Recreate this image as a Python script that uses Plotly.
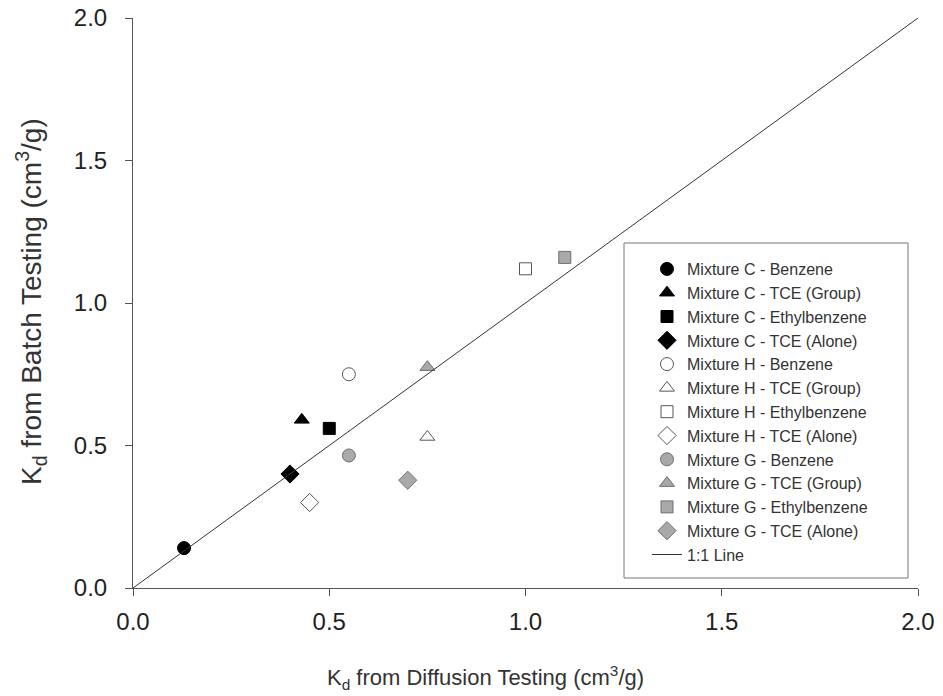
import plotly.graph_objects as go

names = ["Mixture C - Benzene", "Mixture C - TCE (Group)", "Mixture C - Ethylbenzene", "Mixture C - TCE (Alone)",
         "Mixture H - Benzene", "Mixture H - TCE (Group)", "Mixture H - Ethylbenzene", "Mixture H - TCE (Alone)",
         "Mixture G - Benzene", "Mixture G - TCE (Group)", "Mixture G - Ethylbenzene", "Mixture G - TCE (Alone)"]
kd_diffusion = [0.13, 0.43, 0.50, 0.40, 0.55, 0.75, 1.00, 0.45, 0.55, 0.75, 1.10, 0.70]
kd_batch = [0.14, 0.59, 0.56, 0.40, 0.75, 0.53, 1.12, 0.30, 0.465, 0.775, 1.16, 0.378]
symbols = ["circle", "triangle-up", "square", "diamond"] * 3
fills = ["black"] * 4 + ["white"] * 4 + ["#a9a9a9"] * 4
edges = ["black"] * 4 + ["#555555"] * 4 + ["#6e6e6e"] * 4
sizes = [13, 13, 12, 14] * 3
line_x = [0, 2]
line_y = [0, 2]
x_title = "K<sub>d</sub> from Diffusion Testing (cm<sup>3</sup>/g)"
y_title = "K<sub>d</sub> from Batch Testing (cm<sup>3</sup>/g)"

fig = go.Figure()
for i, n in enumerate(names):
    fig.add_trace(go.Scatter(
        x=[kd_diffusion[i]], y=[kd_batch[i]], mode="markers", name=n,
        marker=dict(symbol=symbols[i], color=fills[i], size=sizes[i],
                    line=dict(color=edges[i], width=1))))
fig.add_trace(go.Scatter(x=line_x, y=line_y, mode="lines", name="1:1 Line",
                         line=dict(color="#333333", width=1)))

axis_common = dict(range=[0, 2], tickvals=[0, 0.5, 1.0, 1.5, 2.0], tickformat=".1f",
                   showline=True, linecolor="#555555", linewidth=1, ticks="outside",
                   ticklen=7, tickcolor="#555555", showgrid=False, zeroline=False,
                   automargin=False,
                   tickfont=dict(family="Liberation Sans, Arial", size=24, color="#222222"))
fig.update_layout(
    width=943, height=696,
    margin=dict(l=133, r=25, t=18, b=108),
    plot_bgcolor="white", paper_bgcolor="white",
    font=dict(family="Liberation Sans, Arial", color="#333333"),
    xaxis=dict(axis_common, ticklabelstandoff=5),
    yaxis=dict(axis_common, ticklabelstandoff=13),
    annotations=[
        dict(text=x_title, xref="paper", yref="paper", x=(485 - 133) / 785, y=(588 - 677) / 570,
             xanchor="center", yanchor="middle", showarrow=False,
             font=dict(size=22, color="#333333")),
        dict(text=y_title, xref="paper", yref="paper", x=(31 - 133) / 785, y=(588 - 302) / 570,
             xanchor="center", yanchor="middle", showarrow=False, textangle=-90,
             font=dict(size=28, color="#333333")),
    ],
    legend=dict(x=(647 - 133) / 785, y=(588 - 252) / 570, xanchor="left", yanchor="top",
                borderwidth=0, bgcolor="rgba(0,0,0,0)",
                font=dict(size=16, color="#333333"), itemwidth=30),
    shapes=[dict(type="rect", xref="paper", yref="paper",
                 x0=(624 - 133) / 785, x1=(908 - 133) / 785,
                 y0=(588 - 578) / 570, y1=(588 - 243) / 570,
                 line=dict(color="#777777", width=1), fillcolor="white", layer="below")],
    showlegend=True,
)
fig.write_html("out.html")
